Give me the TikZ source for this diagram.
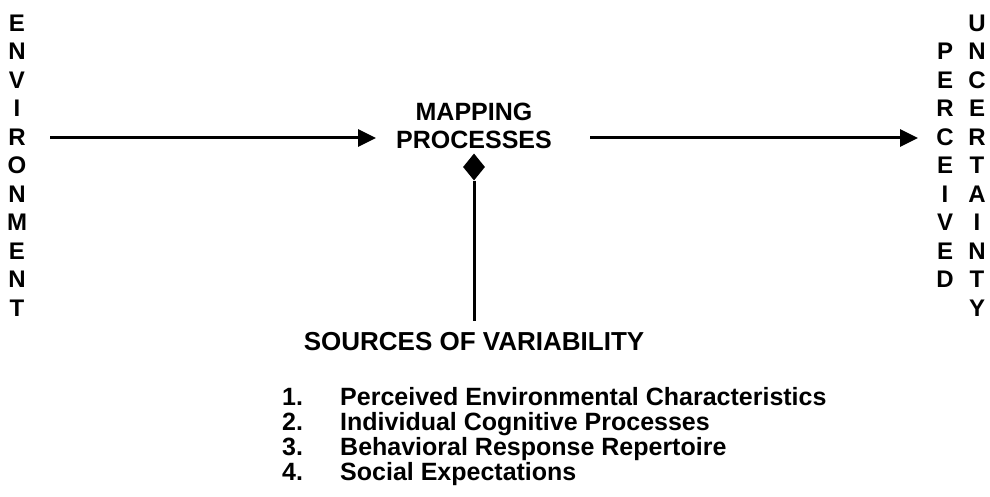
\documentclass[tikz,border=0pt]{standalone}
\usepackage{fontspec}
\setmainfont{Liberation Sans}
\usetikzlibrary{arrows.meta,shapes.geometric}
\begin{document}
\begin{tikzpicture}[x=1pt,y=-1pt,
  lbl/.style={font=\bfseries\fontsize{25}{28}\selectfont, inner sep=0pt},
  col/.style={font=\bfseries\fontsize{24}{28.5}\selectfont, inner sep=0pt, align=center, anchor=north},
  item/.style={font=\bfseries\fontsize{25}{25}\selectfont, inner sep=0pt, anchor=base west},
  arr/.style={line width=3pt, -{Triangle[length=18pt,width=17pt]}},
  stem/.style={line width=3pt}]
\useasboundingbox (0,0) rectangle (990,497);

% vertical word columns
\node[col] (env) at (17,14.5) {E\\N\\V\\I\\R\\O\\N\\M\\E\\N\\T};
\node[col] (perc) at (945,43) {P\\E\\R\\C\\E\\I\\V\\E\\D};
\node[col] (unc) at (977,14.5) {U\\N\\C\\E\\R\\T\\A\\I\\N\\T\\Y};

% central process
\node[lbl, align=center] (map) at (474,126) {MAPPING\\PROCESSES};

% horizontal flow
\coordinate (lstart) at (50,138);
\coordinate (rend) at (918,138);
\draw[arr, shorten >=20pt] (lstart) -- (lstart -| map.west);
\draw[arr, shorten <=38pt] (map.east |- rend) -- (rend);

% sources of variability feeding the mapping
\node[diamond, fill=black, inner sep=0pt, minimum width=22pt, minimum height=27pt] (dia) at (474,167) {};
\node[lbl, font=\bfseries\fontsize{26}{28}\selectfont] (src) at (474,342) {SOURCES OF VARIABILITY};
\coordinate (stemend) at (474,321);
\draw[stem] (dia.south) -- (stemend);

% numbered list
\node[item] (n1) at (282,405) {1.};
\node[item] (n2) at (282,430) {2.};
\node[item] (n3) at (282,455) {3.};
\node[item] (n4) at (282,480) {4.};
\node[item] (t1) at (340,405) {Perceived Environmental Characteristics};
\node[item] (t2) at (340,430) {Individual Cognitive Processes};
\node[item] (t3) at (340,455) {Behavioral Response Repertoire};
\node[item] (t4) at (340,480) {Social Expectations};
\end{tikzpicture}
\end{document}
